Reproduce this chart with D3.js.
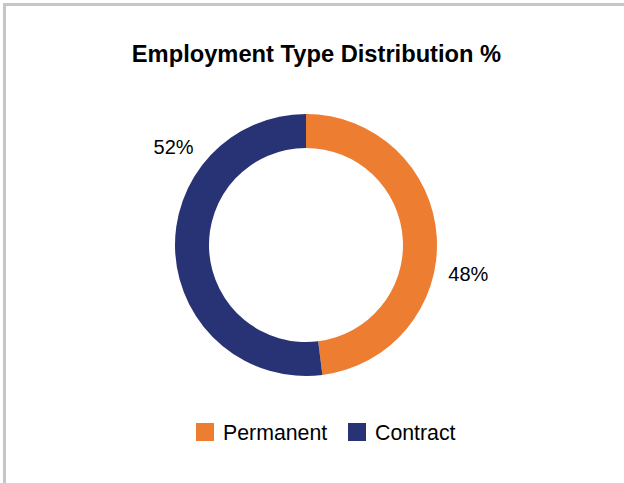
<!DOCTYPE html>
<html><head><meta charset="utf-8">
<script src="https://cdn.jsdelivr.net/npm/d3@7"></script>
<style>body{margin:0;background:#fff}svg{display:block}</style>
</head><body>
<svg id="c" width="624" height="483"></svg>
<script>
const categories = ["Permanent", "Contract"];
const values = [48, 52];
const labels = ["48%", "52%"];
const colors = ["#ED7D31", "#283375"];
// fraction along each arc where its label sits (layout only)
const labelFrac = [0.58, 0.715];

const svg = d3.select("#c");
svg.append("rect").attr("x", 4.5).attr("y", 4.5).attr("width", 800).attr("height", 800)
  .attr("fill", "#fff").attr("stroke", "#c6c6c6").attr("stroke-width", 3);

svg.append("text").attr("x", 316.5).attr("y", 62).attr("text-anchor", "middle")
  .attr("font-family", "Liberation Sans, Arial, sans-serif").attr("font-weight", "bold")
  .attr("font-size", 23.7).attr("fill", "#000").text("Employment Type Distribution %");

const cx = 306, cy = 245, R = 131, r = 97;
const pie = d3.pie().sort(null).value(d => d)(values);
const arc = d3.arc().innerRadius(r).outerRadius(R);
const g = svg.append("g").attr("transform", `translate(${cx},${cy})`);
g.selectAll("path").data(pie).join("path").attr("d", arc).attr("fill", (d, i) => colors[i]);

const LR = 165;
g.selectAll("text.lbl").data(pie).join("text").attr("class", "lbl")
  .attr("x", (d, i) => { const a = d.startAngle + labelFrac[i] * (d.endAngle - d.startAngle); return LR * Math.sin(a); })
  .attr("y", (d, i) => { const a = d.startAngle + labelFrac[i] * (d.endAngle - d.startAngle); return -LR * Math.cos(a); })
  .attr("dy", "0.35em").attr("text-anchor", "middle")
  .attr("font-family", "Liberation Sans, Arial, sans-serif").attr("font-size", 20).attr("fill", "#000")
  .text((d, i) => labels[i]);

// legend
const legX = [196, 348];
const lg = svg.append("g");
categories.forEach((c, i) => {
  lg.append("rect").attr("x", legX[i]).attr("y", 423).attr("width", 18).attr("height", 18).attr("fill", colors[i]);
  lg.append("text").attr("x", legX[i] + 27).attr("y", 440)
    .attr("font-family", "Liberation Sans, Arial, sans-serif").attr("font-size", 21.3).attr("fill", "#000").text(c);
});
</script>
</body></html>
